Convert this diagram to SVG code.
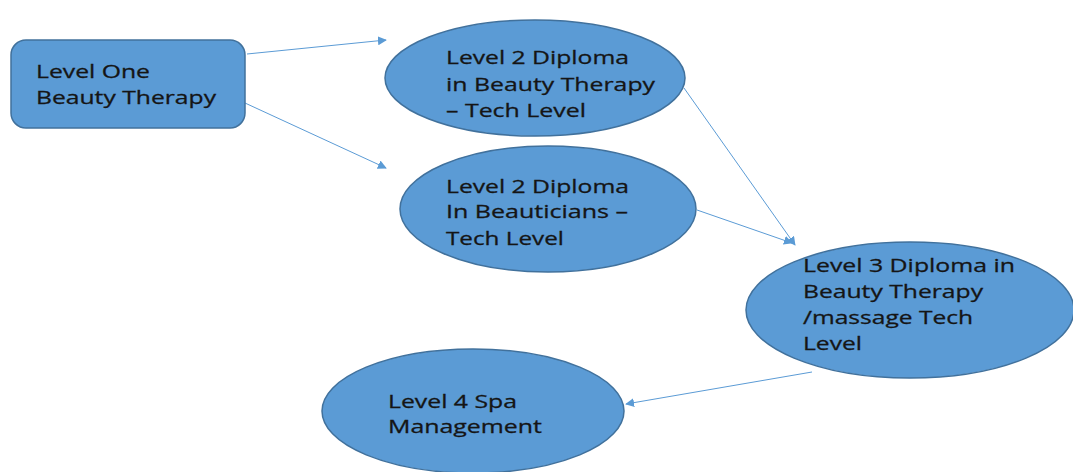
<svg xmlns="http://www.w3.org/2000/svg" width="1073" height="472" viewBox="0 0 1073 472">
<style>
.n{fill:#5b9bd5;stroke:#41719c;stroke-width:1.5}
.t{font-family:"Open Sans","Liberation Sans",sans-serif;font-size:19px;fill:#151515;stroke:#151515;stroke-width:0.3}
.c{stroke:#5b9bd5;stroke-width:1;fill:none;marker-end:url(#a)}
</style>
<defs>
<marker id="a" viewBox="0 0 10 10" refX="9" refY="5" markerWidth="9" markerHeight="9" markerUnits="userSpaceOnUse" orient="auto">
<path d="M0,0 L10,5 L0,10 z" fill="#5b9bd5"/>
</marker>
</defs>
<rect width="1073" height="472" fill="#fff"/>
<g id="connectors">
<line class="c" x1="247" y1="54" x2="386" y2="40"/>
<line class="c" x1="245" y1="103" x2="386" y2="168"/>
<line class="c" x1="684" y1="88" x2="795" y2="245"/>
<line class="c" x1="697" y1="210" x2="792" y2="243"/>
<line class="c" x1="812" y1="372" x2="626" y2="404"/>
</g>
<g id="level1">
<rect class="n" x="11" y="40" width="234" height="88" rx="15"/>
<text class="t" x="36" y="78" textLength="114" lengthAdjust="spacingAndGlyphs">Level One</text>
<text class="t" x="36" y="104" textLength="180" lengthAdjust="spacingAndGlyphs">Beauty Therapy</text>
</g>
<g id="level2a">
<ellipse class="n" cx="535" cy="78" rx="150" ry="58"/>
<text class="t" x="446" y="64" textLength="183" lengthAdjust="spacingAndGlyphs">Level 2 Diploma</text>
<text class="t" x="446" y="91" textLength="209" lengthAdjust="spacingAndGlyphs">in Beauty Therapy</text>
<text class="t" x="446" y="117" textLength="140" lengthAdjust="spacingAndGlyphs">– Tech Level</text>
</g>
<g id="level2b">
<ellipse class="n" cx="548" cy="209" rx="148" ry="63"/>
<text class="t" x="446" y="193" textLength="183" lengthAdjust="spacingAndGlyphs">Level 2 Diploma</text>
<text class="t" x="446" y="218" textLength="182" lengthAdjust="spacingAndGlyphs">In Beauticians –</text>
<text class="t" x="446" y="245" textLength="118" lengthAdjust="spacingAndGlyphs">Tech Level</text>
</g>
<g id="level3">
<ellipse class="n" cx="910" cy="310" rx="164" ry="68"/>
<text class="t" x="803" y="272" textLength="212" lengthAdjust="spacingAndGlyphs">Level 3 Diploma in</text>
<text class="t" x="803" y="298" textLength="180" lengthAdjust="spacingAndGlyphs">Beauty Therapy</text>
<text class="t" x="803" y="324" textLength="170" lengthAdjust="spacingAndGlyphs">/massage Tech</text>
<text class="t" x="803" y="350" textLength="59" lengthAdjust="spacingAndGlyphs">Level</text>
</g>
<g id="level4">
<ellipse class="n" cx="473" cy="411" rx="151" ry="62"/>
<text class="t" x="388" y="408" textLength="129" lengthAdjust="spacingAndGlyphs">Level 4 Spa</text>
<text class="t" x="388" y="433" textLength="154" lengthAdjust="spacingAndGlyphs">Management</text>
</g>
</svg>
